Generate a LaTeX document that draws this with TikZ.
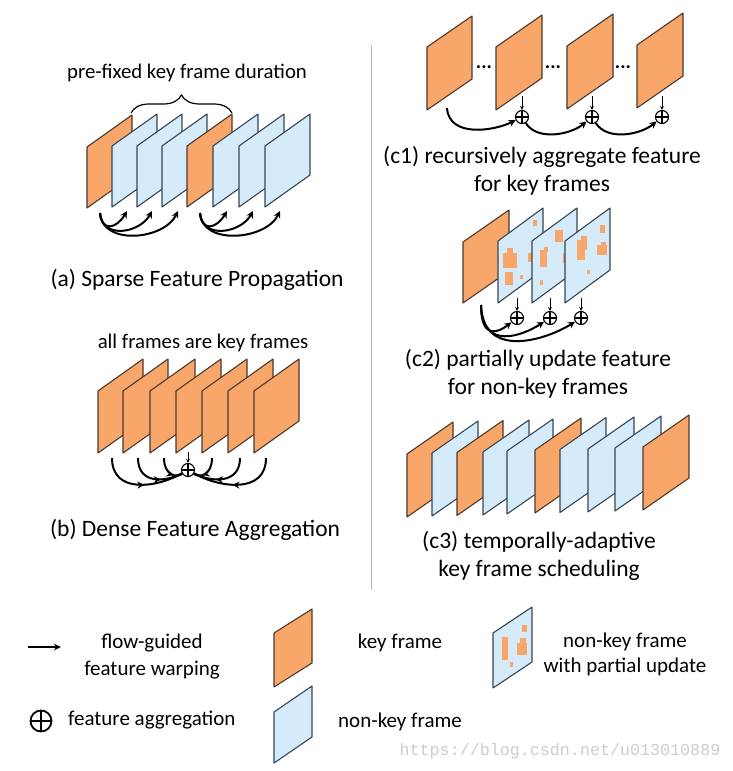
\documentclass[tikz,border=0pt]{standalone}
\usepackage{fontspec}
\setmainfont{Carlito}
\newfontfamily\wmfont{Liberation Mono}
\usetikzlibrary{arrows.meta,decorations.pathreplacing,decorations.markings}
\definecolor{kf}{RGB}{248,166,106}
\definecolor{kfe}{RGB}{75,58,45}
\definecolor{nf}{RGB}{214,235,250}
\definecolor{nfe}{RGB}{55,70,85}
\definecolor{divg}{RGB}{185,185,185}
\definecolor{wm}{RGB}{205,205,205}
\newcommand\frm[6]{\draw[#1] (#2,#3) -- ++(0,-#5) -- ++(#4,-#6) -- ++(0,#5) -- cycle;}
\tikzset{
  keyf/.style={fill=kf,draw=kfe,line width=1.1pt,line join=round},
  nonkf/.style={fill=nf,draw=nfe,line width=1.1pt,line join=round},
  patchbox/.style={fill=kf},
  flow/.style={line width=2pt,-{Stealth[length=7pt,width=7pt]}},
  flowmid/.style={line width=2pt,postaction={decorate},
    decoration={markings,mark=at position #1 with {\arrow{Stealth[length=7pt,width=7pt]}}}},
  dropin/.style={line width=1pt,-{Stealth[length=4pt,width=4pt]}},
  oplus/.style={circle,draw,line width=1.1pt,minimum size=13pt,inner sep=0pt,fill=white,
    path picture={\draw[line width=1.1pt] (path picture bounding box.north) -- (path picture bounding box.south)
      (path picture bounding box.west) -- (path picture bounding box.east);}},
  captxt/.style={font=\fontsize{23.5}{28}\selectfont},
  labtxt/.style={font=\fontsize{20.8}{25}\selectfont},
  legtxt/.style={font=\fontsize{21}{26}\selectfont},
  dotstxt/.style={font=\fontsize{20}{24}\selectfont\bfseries,inner sep=0pt}
}
\begin{document}
\begin{tikzpicture}[x=1pt,y=-1pt]
\useasboundingbox (0,0) rectangle (732,771);
\fill[white] (0,0) rectangle (732,771);

% ---------------- (a)
\frm{keyf}{87}{208}{45}{61}{32}
\frm{nonkf}{112}{207}{45}{61}{32}
\frm{nonkf}{137}{207}{45}{61}{32}
\frm{nonkf}{162}{207}{45}{61}{32}
\frm{keyf}{187}{207}{45}{61}{32}
\frm{nonkf}{213}{207}{45}{61}{32}
\frm{nonkf}{239}{207}{45}{61}{32}
\frm{nonkf}{265}{207}{45}{61}{32}
\draw[line width=1.2pt,decorate,decoration={brace,amplitude=18pt}] (131,113) -- (232,113);
\node[labtxt] (alab) at (187,73) {pre-fixed key frame duration};
\coordinate (as1) at (100,213);
\coordinate (ae1) at (127,211);
\coordinate (ae2) at (152,211);
\coordinate (ae3) at (178,211);
\draw[flow] (as1) .. controls +(2,20) and +(-10,17) .. (ae1);
\draw[flow] (as1) .. controls +(2,27) and +(-12,22) .. (ae2);
\draw[flow] (as1) .. controls +(2,33) and +(-14,29) .. (ae3);
\coordinate (as2) at (200,213);
\coordinate (ae4) at (227,211);
\coordinate (ae5) at (253,211);
\coordinate (ae6) at (280,211);
\draw[flow] (as2) .. controls +(2,20) and +(-10,17) .. (ae4);
\draw[flow] (as2) .. controls +(2,27) and +(-12,22) .. (ae5);
\draw[flow] (as2) .. controls +(2,33) and +(-14,29) .. (ae6);
\node[captxt] (acap) at (197,280) {(a) Sparse Feature Propagation};

% ---------------- (b)
\frm{keyf}{98}{453}{45}{62}{32}
\frm{keyf}{123}{453}{45}{62}{32}
\frm{keyf}{150}{453}{45}{62}{32}
\frm{keyf}{176}{453}{45}{62}{32}
\frm{keyf}{202}{453}{45}{62}{32}
\frm{keyf}{228}{453}{45}{62}{32}
\frm{keyf}{254}{453}{45}{62}{32}
\node[labtxt] (blab) at (203,343) {all frames are key frames};
\node[oplus] (bp) at (188,470) {};
\coordinate (bt) at (188,452);
\draw[dropin] (bt) -- (bp.north);
\coordinate (bl1) at (112,458);
\coordinate (bl2) at (138,458);
\coordinate (bl3) at (164,458);
\coordinate (br1) at (266,458);
\coordinate (br2) at (240,458);
\coordinate (br3) at (212,458);
\draw[flowmid=0.55] (bl1) .. controls +(0,36) and +(-32,18) .. (bp);
\draw[flowmid=0.62] (bl2) .. controls +(0,27) and +(-22,12) .. (bp);
\draw[flowmid=0.7] (bl3) .. controls +(0,17) and +(-12,8) .. (bp);
\draw[flowmid=0.55] (br1) .. controls +(0,36) and +(32,18) .. (bp);
\draw[flowmid=0.62] (br2) .. controls +(0,27) and +(22,12) .. (bp);
\draw[flowmid=0.7] (br3) .. controls +(0,17) and +(12,8) .. (bp);
\node[captxt] (bcap) at (195,530) {(b) Dense Feature Aggregation};

% divider
\draw[divg,line width=1pt] (371,45) -- (371,590);

% ---------------- (c1)
\frm{keyf}{427}{110}{45}{63}{31}
\frm{keyf}{496}{110}{46}{63}{32}
\frm{keyf}{567}{109}{46}{63}{32}
\frm{keyf}{637}{108}{46}{63}{32}
\node[dotstxt] (d1) at (484,67) {...};
\node[dotstxt] (d2) at (553,67) {...};
\node[dotstxt] (d3) at (623,67) {...};
\node[oplus] (o1) at (522,117) {};
\node[oplus] (o2) at (592,117) {};
\node[oplus] (o3) at (662,117) {};
\coordinate (t1) at (522,96);
\coordinate (t2) at (592,96);
\coordinate (t3) at (662,96);
\draw[dropin] (t1) -- (o1.north);
\draw[dropin] (t2) -- (o2.north);
\draw[dropin] (t3) -- (o3.north);
\coordinate (c1s) at (447,108);
\draw[flow] (c1s) .. controls +(2,30) and +(-28,14) .. (o1);
\draw[flow] (o1) .. controls +(15,24) and +(-22,18) .. (o2);
\draw[flow] (o2) .. controls +(15,24) and +(-22,18) .. (o3);
\node[captxt] (c1a) at (542,157) {(c1) recursively aggregate feature};
\node[captxt] (c1b) at (542,185) {for key frames};

% ---------------- (c2)
\frm{keyf}{463}{303}{46}{61}{32}
\frm{nonkf}{498}{303}{45}{62}{33}
\fill[patchbox] (503,253) rectangle (517,268);
\fill[patchbox] (507,248) rectangle (513,254);
\fill[patchbox] (528,253) rectangle (532,262);
\fill[patchbox] (505,272) rectangle (513,285);
\fill[patchbox] (520,275) rectangle (523,279);
\fill[patchbox] (533,220) rectangle (537,226);
\frm{nonkf}{532}{303}{45}{62}{33}
\fill[patchbox] (555,230) rectangle (563,242);
\fill[patchbox] (540,250) rectangle (547,267);
\fill[patchbox] (544,247) rectangle (548,252);
\fill[patchbox] (563,253) rectangle (567,263);
\fill[patchbox] (540,280) rectangle (543,285);
\frm{nonkf}{565}{303}{45}{62}{33}
\fill[patchbox] (600,225) rectangle (605,233);
\fill[patchbox] (577,240) rectangle (585,260);
\fill[patchbox] (581,236) rectangle (587,250);
\fill[patchbox] (597,245) rectangle (607,255);
\fill[patchbox] (601,242) rectangle (606,247);
\fill[patchbox] (587,270) rectangle (590,274);
\node[oplus] (p1) at (517,318) {};
\node[oplus] (p2) at (550,318) {};
\node[oplus] (p3) at (581,318) {};
\coordinate (u1) at (517,298);
\coordinate (u2) at (550,298);
\coordinate (u3) at (581,298);
\draw[dropin] (u1) -- (p1.north);
\draw[dropin] (u2) -- (p2.north);
\draw[dropin] (u3) -- (p3.north);
\coordinate (c2s) at (481,305);
\draw[flow] (c2s) .. controls +(0,36) and +(-18,14) .. (p1);
\draw[flow] (c2s) .. controls +(1,46) and +(-28,18) .. (p2);
\draw[flow] (c2s) .. controls +(2,55) and +(-35,22) .. (p3);
\node[captxt] (c2a) at (538,360) {(c2) partially update feature};
\node[captxt] (c2b) at (538,388) {for non-key frames};

% ---------------- (c3)
\frm{keyf}{407}{517}{46}{63}{32}
\frm{nonkf}{432}{516}{46}{63}{32}
\frm{keyf}{457}{515.5}{46}{63}{32}
\frm{nonkf}{483}{515}{46}{63}{32}
\frm{nonkf}{507}{514}{46}{63}{32}
\frm{keyf}{535}{513}{46}{63}{32}
\frm{nonkf}{560}{512.5}{46}{63}{32}
\frm{nonkf}{588}{512}{46}{63}{32}
\frm{nonkf}{615}{511}{46}{63}{32}
\frm{keyf}{643}{510}{46}{63}{32}
\node[captxt] (c3a) at (539,542) {(c3) temporally-adaptive};
\node[captxt] (c3b) at (539,570) {key frame scheduling};

% ---------------- legend
\coordinate (la1) at (28,647);
\coordinate (la2) at (61,647);
\draw[line width=1.8pt,-{Stealth[length=7pt,width=6.5pt]}] (la1) -- (la2);
\node[legtxt] (lt1) at (152,643) {flow-guided};
\node[legtxt] (lt2) at (152,670) {feature warping};
\node[oplus,minimum size=21pt,line width=1.8pt,
  path picture={\draw[line width=1.8pt] (path picture bounding box.north) -- (path picture bounding box.south)
      (path picture bounding box.west) -- (path picture bounding box.east);}] (lo) at (41,721) {};
\node[legtxt,anchor=west,inner sep=0pt] (lt3) at (68,720) {feature aggregation};
\frm{keyf}{274}{687}{38}{54}{24}
\node[legtxt] (lt4) at (400,643) {key frame};
\frm{nonkf}{274}{763}{38}{51}{26}
\node[legtxt] (lt5) at (400,722) {non-key frame};
\frm{nonkf}{493}{688}{39}{55}{26}
\fill[patchbox] (502,637) rectangle (508,660);
\fill[patchbox] (522,625) rectangle (527,632);
\fill[patchbox] (517,643) rectangle (527,655);
\fill[patchbox] (520,638) rectangle (526,645);
\fill[patchbox] (510,662) rectangle (513,667);
\node[legtxt] (lt6) at (625,642) {non-key frame};
\node[legtxt] (lt7) at (625,667) {with partial update};
\node[text=wm,font=\wmfont\fontsize{16.7}{20}\selectfont] (wmk) at (560,751) {https://blog.csdn.net/u013010889};
\end{tikzpicture}
\end{document}
